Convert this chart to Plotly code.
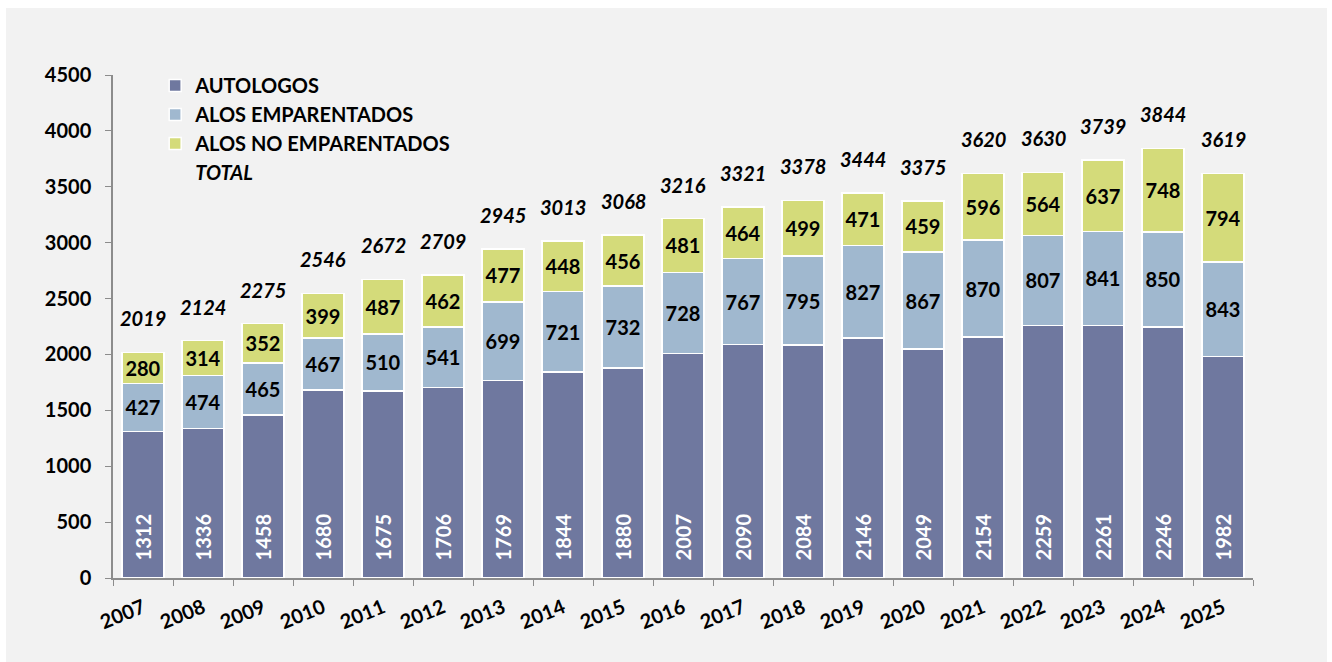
import plotly.graph_objects as go

years = ["2007", "2008", "2009", "2010", "2011", "2012", "2013", "2014", "2015", "2016",
         "2017", "2018", "2019", "2020", "2021", "2022", "2023", "2024", "2025"]
autologos = [1312, 1336, 1458, 1680, 1675, 1706, 1769, 1844, 1880, 2007,
             2090, 2084, 2146, 2049, 2154, 2259, 2261, 2246, 1982]
alos_emp = [427, 474, 465, 467, 510, 541, 699, 721, 732, 728,
            767, 795, 827, 867, 870, 807, 841, 850, 843]
alos_no_emp = [280, 314, 352, 399, 487, 462, 477, 448, 456, 481,
               464, 499, 471, 459, 596, 564, 637, 748, 794]
totals = [2019, 2124, 2275, 2546, 2672, 2709, 2945, 3013, 3068, 3216,
          3321, 3378, 3444, 3375, 3620, 3630, 3739, 3844, 3619]

FONT = "Lato"
C_AUTO = "#6f789f"
C_EMP = "#a0b8cf"
C_NOEMP = "#d4db7a"
AXIS = "#8c8c8c"
PAD = "&nbsp;&nbsp;&nbsp;"  # lifts the rotated labels off the bar base

fig = go.Figure()
fig.add_trace(go.Bar(
    x=years, y=autologos, name="AUTOLOGOS",
    marker=dict(color=C_AUTO, line=dict(color="white", width=1.5)),
    text=[PAD + str(v) for v in autologos], textposition="inside",
    insidetextanchor="start", textangle=-90,
    textfont=dict(family=FONT, size=20, color="white", weight="bold"),
))
fig.add_trace(go.Bar(
    x=years, y=alos_emp, name="ALOS EMPARENTADOS",
    marker=dict(color=C_EMP, line=dict(color="white", width=1.5)),
    text=[str(v) for v in alos_emp], textposition="inside",
    insidetextanchor="middle", textangle=0,
    textfont=dict(family=FONT, size=20, color="black", weight="bold"),
))
fig.add_trace(go.Bar(
    x=years, y=alos_no_emp, name="ALOS NO EMPARENTADOS",
    marker=dict(color=C_NOEMP, line=dict(color="white", width=1.5)),
    text=[str(v) for v in alos_no_emp], textposition="inside",
    insidetextanchor="middle", textangle=0,
    textfont=dict(family=FONT, size=20, color="black", weight="bold"),
))
# legend-only entry for TOTAL (no visible symbol)
fig.add_trace(go.Scatter(
    x=years, y=totals, name="<i>TOTAL</i>", mode="lines",
    line=dict(width=0, color="rgba(0,0,0,0)"), hoverinfo="skip",
))

# total labels above each stacked bar (category index on the x axis)
for i, t in enumerate(totals):
    fig.add_annotation(
        x=i, y=t, text=f"<i>{t}</i>", showarrow=False,
        yanchor="bottom", yshift=20,
        font=dict(family=FONT, size=20, color="black", weight="bold"),
    )

fig.add_shape(
    type="rect", xref="paper", yref="paper",
    x0=(6 - 113) / 1140, x1=(1327 - 113) / 1140,
    y0=(578 - 670) / 503, y1=(578 - 8) / 503,
    fillcolor="#f2f2f2", line=dict(width=0), layer="below",
)

fig.update_layout(
    width=1332, height=662,
    margin=dict(l=113, r=79, t=75, b=84),
    paper_bgcolor="white", plot_bgcolor="#f2f2f2",
    barmode="stack", bargap=0.3,
    font=dict(family=FONT, size=20, color="black", weight="bold"),
    showlegend=True,
    legend=dict(
        x=0.037, y=1.018, xanchor="left", yanchor="top",
        bgcolor="rgba(0,0,0,0)", traceorder="normal",
        font=dict(family=FONT, size=20, color="black", weight="bold"),
        itemwidth=30, tracegroupgap=0,
    ),
    xaxis=dict(
        type="category", tickangle=-22, tickson="boundaries",
        ticks="outside", ticklen=6, tickcolor=AXIS,
        showline=True, linecolor=AXIS, linewidth=1.5,
        showgrid=False, zeroline=False, ticklabelstandoff=9,
        tickfont=dict(family=FONT, size=20, color="black", weight="bold"),
    ),
    yaxis=dict(
        range=[0, 4500], dtick=500, tick0=0,
        ticks="outside", ticklen=6, tickcolor=AXIS,
        showline=True, linecolor=AXIS, linewidth=1.5,
        showgrid=False, zeroline=False, ticklabelstandoff=10,
        tickfont=dict(family=FONT, size=20, color="black", weight="bold"),
    ),
)

fig.write_html(
    "out.html",
    config={"displayModeBar": False},
    post_script="document.body.style.margin='0';document.body.style.overflow='hidden';",
)
